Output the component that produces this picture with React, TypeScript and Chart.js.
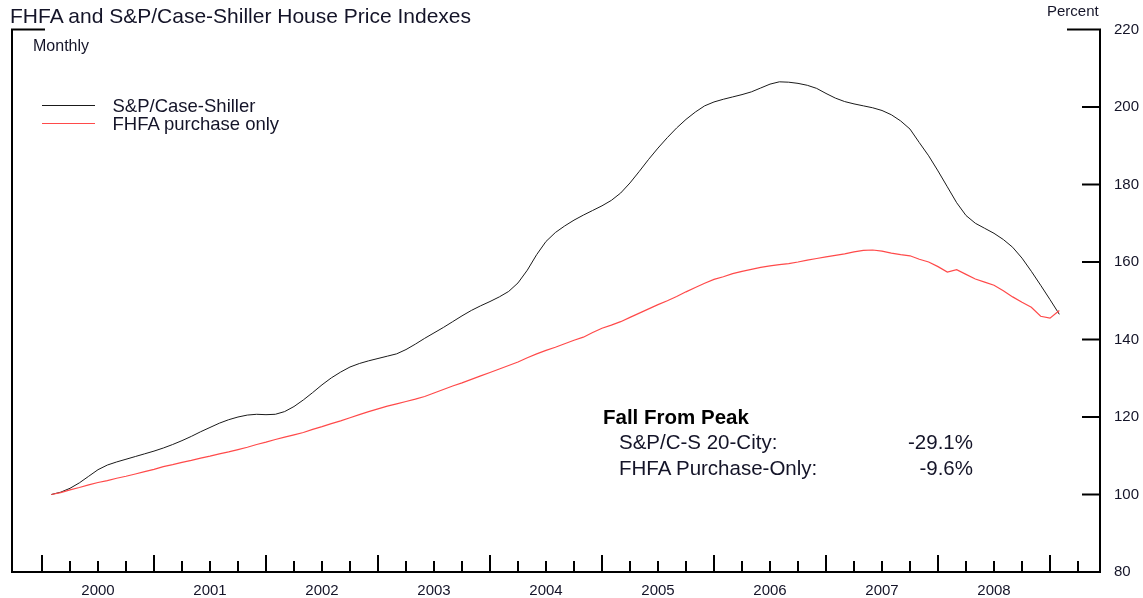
import React, { useEffect, useRef } from "react";
import { Chart, registerables } from "chart.js";

Chart.register(...registerables);

// ---- Data (monthly, Jan 2000 = 100) ----
const yearLabels = ["2000", "2001", "2002", "2003", "2004", "2005", "2006", "2007", "2008"];

// S&P/Case-Shiller 20-City, Jan 2000 .. Jan 2009
const caseShiller = [
  100.0, 100.6, 101.6, 103.0, 104.7, 106.4, 107.6, 108.4, 109.1, 109.8, 110.5, 111.2,
  112.0, 112.9, 113.9, 115.0, 116.2, 117.3, 118.4, 119.3, 120.0, 120.5, 120.7, 120.6,
  120.7, 121.4, 122.7, 124.4, 126.3, 128.3, 130.1, 131.6, 132.9, 133.8, 134.5, 135.1,
  135.7, 136.3, 137.4, 138.8, 140.3, 141.7, 143.1, 144.6, 146.1, 147.5, 148.7, 149.8,
  151.0, 152.4, 154.6, 157.9, 161.9, 165.3, 167.6, 169.3, 170.8, 172.1, 173.3, 174.5,
  175.9, 177.8, 180.4, 183.4, 186.5, 189.4, 192.1, 194.6, 196.8, 198.7, 200.3, 201.3,
  202.0, 202.6, 203.2, 203.9, 204.9, 205.9, 206.5, 206.4, 206.1, 205.6, 204.8, 203.5,
  202.3, 201.4, 200.8, 200.3, 199.8, 199.1, 198.0, 196.4, 194.3, 190.8, 187.4, 183.5,
  179.4, 175.3, 172.0, 170.0, 168.7, 167.4, 165.8, 163.8, 161.0, 157.6, 154.0, 150.3,
  146.5,
];

// FHFA purchase-only, Jan 2000 .. Jan 2009
const fhfa = [
  100.0, 100.5, 101.2, 101.8, 102.5, 103.1, 103.6, 104.2, 104.7, 105.3, 105.9, 106.5,
  107.2, 107.7, 108.3, 108.8, 109.4, 109.9, 110.5, 111.0, 111.6, 112.2, 112.9, 113.5,
  114.2, 114.8, 115.4, 116.0, 116.8, 117.5, 118.3, 119.0, 119.8, 120.6, 121.4, 122.1,
  122.8, 123.4, 124.0, 124.6, 125.3, 126.2, 127.1, 128.0, 128.8, 129.7, 130.6, 131.5,
  132.4, 133.3, 134.2, 135.3, 136.3, 137.2, 138.0, 138.9, 139.8, 140.6, 141.8, 142.9,
  143.7, 144.6, 145.7, 146.8, 147.9, 149.0, 150.0, 151.1, 152.3, 153.4, 154.5, 155.5,
  156.2, 157.0, 157.6, 158.1, 158.6, 159.0, 159.3, 159.6, 160.0, 160.5, 160.9, 161.3,
  161.7, 162.1, 162.6, 163.0, 163.1, 162.8, 162.3, 161.9, 161.6, 160.7, 160.0, 158.8,
  157.4, 158.0, 156.8, 155.6, 154.8, 154.0, 152.6, 151.0, 149.6, 148.3, 146.0, 145.5,
  147.5,
];

const seriesNames = ["S&P/Case-Shiller", "FHFA purchase only"];
const seriesColors = ["#1a1a1a", "#ff4a4a"];
const yTickValues = [80, 100, 120, 140, 160, 180, 200, 220];
const fallRows = [
  ["S&P/C-S 20-City:", "-29.1%"],
  ["FHFA Purchase-Only:", "-9.6%"],
];

const FONT = "'Liberation Sans', Arial, Helvetica, sans-serif";
const TEXT = "#141428";

const toPoints = (arr: number[]) => arr.map((v, i) => ({ x: i + 1, y: v }));

const framePlugin = {
  id: "frame",
  afterDraw(chart: any) {
    const { ctx, chartArea: a } = chart;
    const x = chart.scales.x;
    const y = chart.scales.y;
    ctx.save();
    ctx.strokeStyle = "#000";
    ctx.lineWidth = 2;
    ctx.lineJoin = "miter";
    const stub = 33;
    ctx.beginPath();
    ctx.moveTo(a.left + stub, a.top);
    ctx.lineTo(a.left, a.top);
    ctx.lineTo(a.left, a.bottom);
    ctx.lineTo(a.right, a.bottom);
    ctx.lineTo(a.right, a.top);
    ctx.lineTo(a.right - stub, a.top);
    ctx.stroke();
    ctx.beginPath();
    // right axis ticks (inward)
    yTickValues.forEach((v) => {
      if (v === yTickValues[0] || v === yTickValues[yTickValues.length - 1]) return;
      const py = y.getPixelForValue(v);
      ctx.moveTo(a.right - 18, py);
      ctx.lineTo(a.right, py);
    });
    // bottom axis ticks: years (major) and quarters (minor)
    for (let m = 0; m <= x.max; m += 3) {
      const px = Math.round(x.getPixelForValue(m));
      const len = m % 12 === 0 ? 17 : 11;
      ctx.moveTo(px, a.bottom);
      ctx.lineTo(px, a.bottom - len);
    }
    ctx.stroke();
    ctx.restore();
  },
};

export default function App() {
  const ref = useRef<HTMLCanvasElement | null>(null);

  useEffect(() => {
    document.body.style.margin = "0";
    if (!ref.current) return;
    const chart = new Chart(ref.current, {
      type: "line",
      data: {
        datasets: [
          {
            label: seriesNames[1],
            data: toPoints(fhfa),
            borderColor: seriesColors[1],
            borderWidth: 1.2,
            pointRadius: 0,
            tension: 0,
            fill: false,
          },
          {
            label: seriesNames[0],
            data: toPoints(caseShiller),
            borderColor: seriesColors[0],
            borderWidth: 1,
            pointRadius: 0,
            tension: 0,
            fill: false,
          },
        ],
      },
      options: {
        animation: false,
        responsive: false,
        devicePixelRatio: 1,
        layout: { padding: { left: 12, top: 29.5, right: 0, bottom: 0 } },
        plugins: {
          legend: { display: false },
          tooltip: { enabled: false },
          title: { display: false },
        },
        scales: {
          x: {
            type: "linear",
            position: "bottom",
            min: -3.214,
            max: 113.357,
            grid: { display: false, drawTicks: false },
            border: { display: false },
            ticks: {
              autoSkip: false,
              maxRotation: 0,
              padding: 10,
              color: TEXT,
              font: { family: FONT, size: 15 },
              callback: (v: any) => {
                const k = Math.round((Number(v) - 6) / 12);
                return yearLabels[k] ?? "";
              },
            },
            afterBuildTicks: (s: any) => {
              s.ticks = yearLabels.map((_, k) => ({ value: 6 + 12 * k }));
            },
            afterFit: (s: any) => {
              s.height = 26;
            },
          },
          y: {
            type: "linear",
            position: "right",
            min: 80,
            max: 220,
            grid: { display: false, drawTicks: false },
            border: { display: false },
            ticks: {
              stepSize: 20,
              padding: 14,
              color: TEXT,
              font: { family: FONT, size: 15 },
            },
            afterBuildTicks: (s: any) => {
              s.ticks = yTickValues.map((v) => ({ value: v }));
            },
            afterFit: (s: any) => {
              s.width = 43;
            },
          },
        },
      },
      plugins: [framePlugin],
    });
    return () => chart.destroy();
  }, []);

  const abs = (style: React.CSSProperties): React.CSSProperties => ({
    position: "absolute",
    whiteSpace: "nowrap",
    fontFamily: FONT,
    color: TEXT,
    ...style,
  });

  return (
    <div style={{ position: "relative", width: 1143, height: 598, background: "#fff", overflow: "hidden" }}>
      <canvas ref={ref} width={1143} height={598} style={{ position: "absolute", left: 0, top: 0 }} />
      <div style={abs({ left: 10, top: 5, fontSize: 21, lineHeight: "21px" })}>
        FHFA and S&amp;P/Case-Shiller House Price Indexes
      </div>
      <div style={abs({ left: 33, top: 37.5, fontSize: 16, lineHeight: "16px" })}>Monthly</div>
      <div style={abs({ left: 1047, top: 2.5, fontSize: 15, lineHeight: "15px" })}>Percent</div>
      {seriesNames.map((n, i) => (
        <React.Fragment key={n}>
          <div
            style={{
              position: "absolute",
              left: 42,
              top: 105 + i * 18,
              width: 53,
              height: 0,
              borderTop: `1.5px solid ${seriesColors[i]}`,
            }}
          />
          <div style={abs({ left: 112.5, top: 97 + i * 18, fontSize: 18.5, lineHeight: "18.5px" })}>{n}</div>
        </React.Fragment>
      ))}
      <div style={abs({ left: 603, top: 407, fontSize: 20.5, lineHeight: "20px", fontWeight: "bold", color: "#000" })}>
        Fall From Peak
      </div>
      {fallRows.map((r, i) => (
        <React.Fragment key={r[0]}>
          <div style={abs({ left: 619, top: 432 + i * 26, fontSize: 20.5, lineHeight: "20px" })}>{r[0]}</div>
          <div style={abs({ left: 873, width: 100, textAlign: "right", top: 432 + i * 26, fontSize: 20.5, lineHeight: "20px" })}>
            {r[1]}
          </div>
        </React.Fragment>
      ))}
    </div>
  );
}
